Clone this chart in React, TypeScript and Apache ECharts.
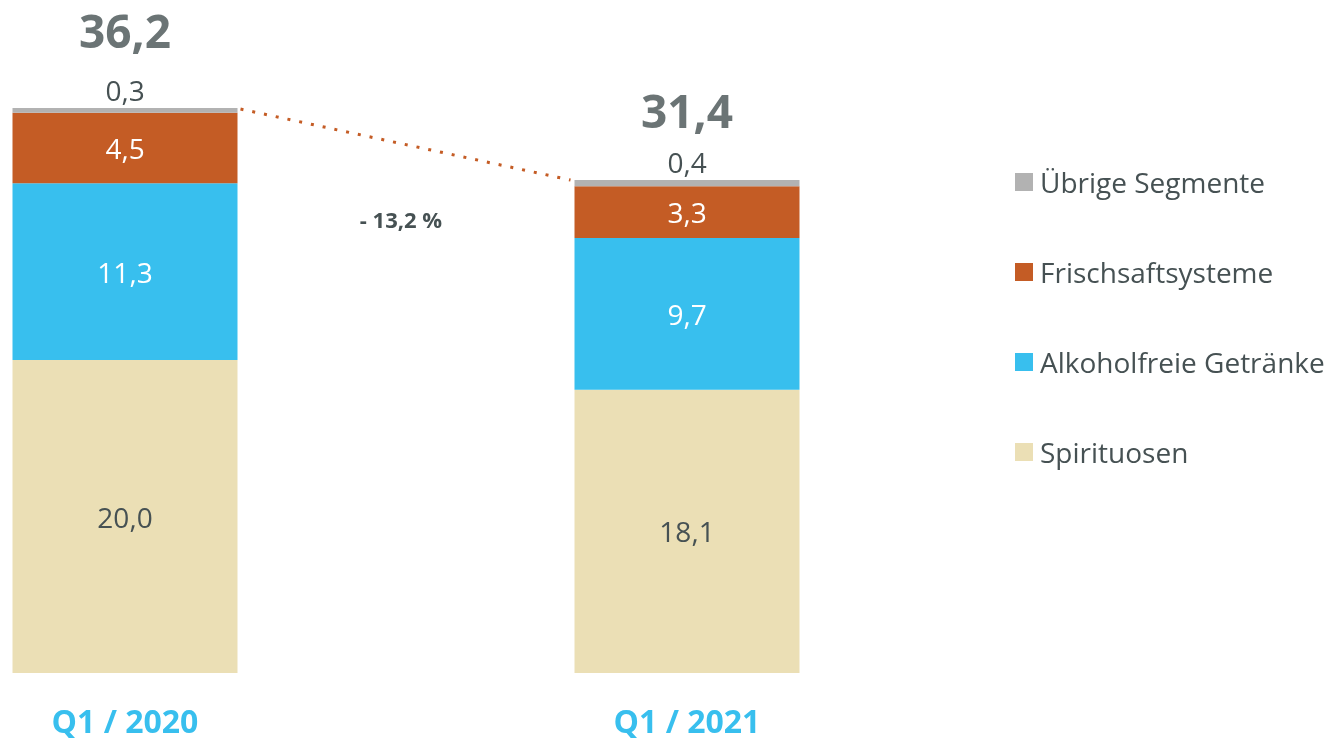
import React, { useEffect, useRef } from "react";
import * as echarts from "echarts";

const categories = ["Q1 / 2020", "Q1 / 2021"];
const spirituosen = [20.0, 18.1];
const alkoholfrei = [11.3, 9.7];
const frischsaft = [4.5, 3.3];
const uebrige = [0.3, 0.4];
const totals = [36.2, 31.4];
const changeLabel = "- 13,2 %";

const seriesNames = ["Spirituosen", "Alkoholfreie Getränke", "Frischsaftsysteme", "Übrige Segmente"];
const colors = ["#EBDFB5", "#38BFEE", "#C45C25", "#B2B2B2"];
const TEXT = "#465153";
const FONT = "'Open Sans', sans-serif";

const fmt = (v: number) => v.toFixed(1).replace(".", ",");

export default function App() {
  const ref = useRef<HTMLDivElement>(null);
  useEffect(() => {
    const el = ref.current!;
    const chart = echarts.init(el, undefined, { renderer: "svg" });
    const BAR_W = 225;
    const data = [spirituosen, alkoholfrei, frischsaft, uebrige];
    const labelColors = [TEXT, "#ffffff", "#ffffff", TEXT];
    const stackTop = categories.map((_, i) => data.reduce((s, d) => s + d[i], 0));
    const series: any[] = data.map((d, si) => ({
      name: seriesNames[si],
      type: "bar",
      stack: "total",
      barWidth: BAR_W,
      clip: false,
      itemStyle: { color: colors[si] },
      data: d,
      label: {
        show: true,
        position: si === 3 ? "top" : "inside",
        distance: 4,
        color: labelColors[si],
        fontFamily: FONT,
        fontSize: 28,
        formatter: (p: any) => fmt(p.value),
      },
    }));
    series.push({
      name: "total",
      type: "scatter",
      symbolSize: 0,
      clip: false,
      data: stackTop.map((v, i) => ({
        value: v,
        label: { offset: [0, i === 0 ? -33 : -25] },
      })),
      label: {
        show: true,
        position: "top",
        distance: 28,
        color: TEXT,
        fontFamily: FONT,
        fontWeight: "bold",
        fontSize: 46,
        lineHeight: 34,
        formatter: (p: any) => fmt(totals[p.dataIndex]),
      },
      silent: true,
    });
    chart.setOption({
      animation: false,
      grid: { left: 125, right: 1329 - 687, top: 47, bottom: 67 },
      xAxis: {
        type: "category",
        data: categories,
        boundaryGap: false,
        axisLine: { show: false },
        axisTick: { show: false },
        axisLabel: {
          color: "#38BFEE",
          fontFamily: FONT,
          fontWeight: "bold",
          fontSize: 32,
          lineHeight: 26,
          margin: 34,
        },
      },
      yAxis: { type: "value", min: 0, max: 40, show: false, splitLine: { show: false } },
      legend: {
        data: [...seriesNames].reverse(),
        orient: "vertical",
        left: 1015,
        top: 168,
        padding: 0,
        itemWidth: 18,
        itemHeight: 18,
        itemGap: 62,
        icon: "rect",
        textStyle: { color: TEXT, fontFamily: FONT, fontSize: 28, padding: [0, 0, 0, 2] },
        selectedMode: false,
      },
      series,
    });
    const p1 = chart.convertToPixel({ gridIndex: 0 }, [0, stackTop[0]]) as number[];
    const p2 = chart.convertToPixel({ gridIndex: 0 }, [1, stackTop[1]]) as number[];
    chart.setOption({
      graphic: [
        {
          type: "line",
          shape: { x1: p1[0] + BAR_W / 2 + 3, y1: p1[1] + 1, x2: p2[0] - BAR_W / 2 - 4, y2: p2[1] },
          style: { stroke: "#C45C25", lineWidth: 3, lineDash: [3, 9] },
          silent: true,
        },
        {
          type: "text",
          x: (p1[0] + p2[0]) / 2 - 5,
          y: 219,
          style: {
            text: changeLabel,
            fill: TEXT,
            font: `bold 22px ${FONT}`,
            align: "center",
            verticalAlign: "middle",
          },
        },
      ],
    });
    return () => chart.dispose();
  }, []);
  return <div ref={ref} style={{ width: 1329, height: 740, position: "fixed", left: 0, top: 0 }} />;
}
